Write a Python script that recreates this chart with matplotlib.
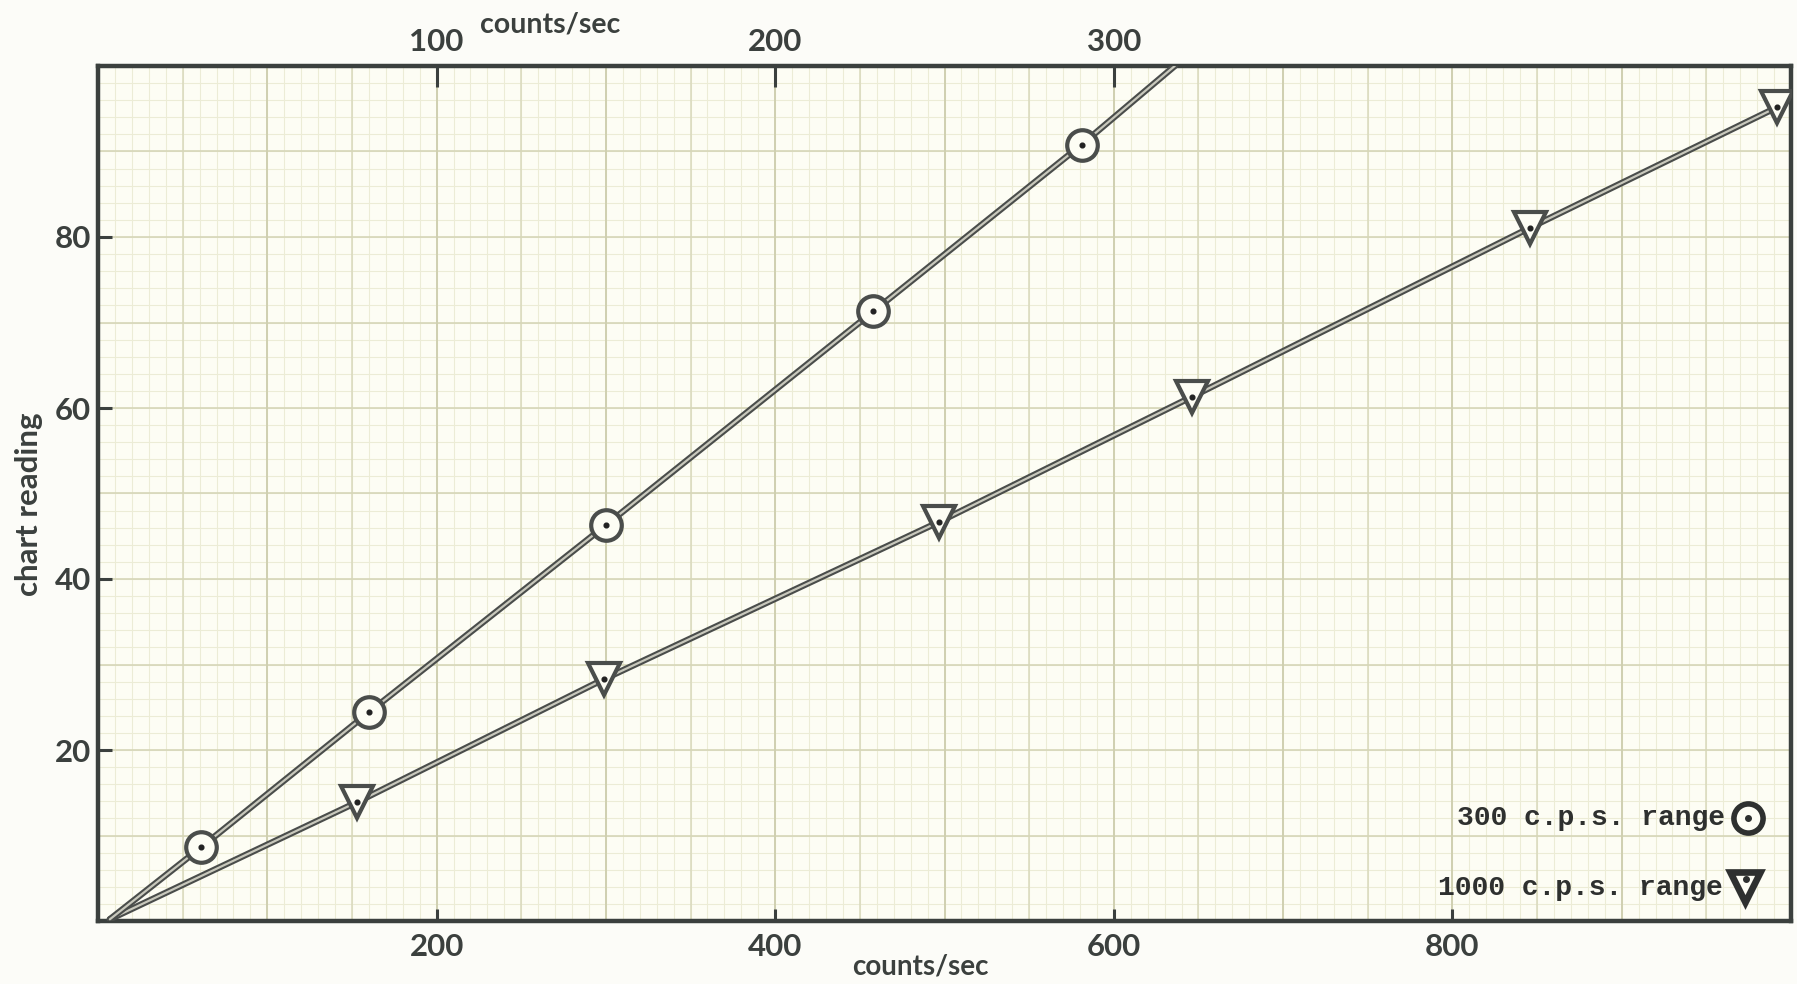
import numpy as np
import matplotlib
matplotlib.use("Agg")
import matplotlib.pyplot as plt
import matplotlib.patheffects as pe

# ---- data ----
# 1000 c.p.s. range (bottom axis, counts/sec)
tri_x = [153, 299, 497, 646, 846, 992]
tri_y = [13.9, 28.3, 46.7, 61.3, 81.1, 95.2]
# 300 c.p.s. range (top axis, counts/sec)
circ_x = [30.4, 80, 150, 229, 290.5]
circ_y = [8.6, 24.4, 46.3, 71.3, 90.8]
# line start and extension as drawn on the sheet
tri_line_x = [7] + tri_x
tri_line_y = [0.2] + tri_y
circ_line_x = [3.5] + circ_x + [318]
circ_line_y = [0.2] + circ_y + [100]

bottom_ticks = [200, 400, 600, 800]
top_ticks = [100, 200, 300]
y_ticks = [20, 40, 60, 80]

INK = "#3b403e"
PAPER = "#fdfdf4"
W, H = 1797, 984

fig = plt.figure(figsize=(W / 100, H / 100), dpi=100)
fig.patch.set_facecolor("#fcfcf8")
L, R, T, B = 98, 1791, 66, 921
ax = fig.add_axes([L / W, 1 - B / H, (R - L) / W, (B - T) / H])
ax.set_facecolor(PAPER)
ax.set_xlim(0, 1000)
ax.set_ylim(0, 100)

# graph paper grid
ax.vlines(np.arange(0, 1001, 10), 0, 100, color="#ececd6", lw=0.8, zorder=0)
ax.hlines(np.arange(0, 101, 2), 0, 1000, color="#ececd6", lw=0.8, zorder=0)
ax.vlines(np.arange(0, 1001, 50), 0, 100, color="#d9d9bc", lw=1.1, zorder=0)
ax.hlines(np.arange(0, 101, 10), 0, 1000, color="#d6d6b8", lw=1.2, zorder=0)
ax.vlines(np.arange(0, 1001, 100), 0, 100, color="#cfcfb0", lw=1.3, zorder=0)

for s in ax.spines.values():
    s.set_color(INK)
    s.set_linewidth(3.2)

tick_font = dict(family="Lato", weight="bold", size=22.5, color=INK)
ax.set_xticks(bottom_ticks)
ax.set_xticklabels([str(v) for v in bottom_ticks], fontdict=tick_font)
ax.set_yticks(y_ticks)
ax.set_yticklabels([str(v) for v in y_ticks], fontdict=tick_font)
ax.tick_params(axis="x", direction="in", length=9, width=2.2, color=INK, pad=9)
ax.tick_params(axis="y", direction="in", length=10, width=2.2, color=INK, pad=5)

# top axis for 300 c.p.s. range
ax2 = ax.twiny()
ax2.set_xlim(0, 500)
ax2.set_ylim(0, 100)
ax2.patch.set_visible(False)
for s in ax2.spines.values():
    s.set_visible(False)
ax2.set_xticks(top_ticks)
ax2.set_xticklabels([str(v) for v in top_ticks], fontdict=tick_font)
ax2.tick_params(axis="x", direction="in", length=15, width=2.2, color=INK, pad=7)

line_fx = [pe.Stroke(linewidth=4.6, foreground="#4a4d4b"), pe.Normal()]

# 1000 c.p.s. range
ax.plot(tri_line_x, tri_line_y, color="#c8c8bc", lw=1.6, zorder=3,
        path_effects=line_fx, solid_capstyle="round")
ax.plot(tri_x, tri_y, linestyle="none", marker="v", ms=23, mfc=PAPER,
        mec="#4a4d4b", mew=3.0, zorder=4)
ax.plot(tri_x, tri_y, linestyle="none", marker="o", ms=3.4, color="#222", zorder=5)

# 300 c.p.s. range
ax2.plot(circ_line_x, circ_line_y, color="#c8c8bc", lw=1.6, zorder=3,
         path_effects=line_fx, solid_capstyle="round")
ax2.plot(circ_x, circ_y, linestyle="none", marker="o", ms=22, mfc=PAPER,
         mec="#4a4d4b", mew=3.0, zorder=4)
ax2.plot(circ_x, circ_y, linestyle="none", marker="o", ms=3.4, color="#222", zorder=5)

# key
key_font = dict(family="Liberation Mono", weight="bold", size=20.2, color="#2e302f")
ax.text(0.961, 0.1205, "300 c.p.s. range", transform=ax.transAxes,
        ha="right", va="center", **key_font)
ax.text(0.9595, 0.0386, "1000 c.p.s. range", transform=ax.transAxes,
        ha="right", va="center", **key_font)
ax.plot([0.9745], [0.1205], transform=ax.transAxes, marker="o", ms=21,
        mfc=PAPER, mec="#2e302f", mew=4.0, clip_on=False, zorder=6)
ax.plot([0.9745], [0.1205], transform=ax.transAxes, marker="o", ms=4,
        color="#2e302f", clip_on=False, zorder=7)
ax.plot([0.973], [0.040], transform=ax.transAxes, marker="v", ms=22,
        mfc=PAPER, mec="#2e302f", mew=4.8, clip_on=False, zorder=6)
ax.plot([0.9735], [0.049], transform=ax.transAxes, marker="o", ms=4,
        color="#2e302f", clip_on=False, zorder=7)

label_font = dict(family="Lato", weight="bold", color=INK)
fig.text(920 / W, 1 - 966 / H, "counts/sec", ha="center", va="center",
         size=20, **label_font)
fig.text(550 / W, 1 - 25 / H, "counts/sec", ha="center", va="center",
         size=20.5, **label_font)
fig.text(29 / W, 1 - 504 / H, "chart reading", ha="center", va="center",
         rotation=90, size=22.5, **label_font)

fig.savefig("out.png", dpi=100, facecolor=fig.get_facecolor())
